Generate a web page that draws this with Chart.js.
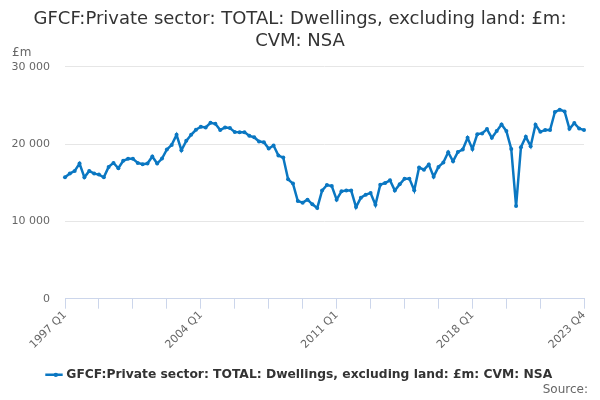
<!DOCTYPE html>
<html>
<head>
<meta charset="utf-8">
<script src="https://cdn.jsdelivr.net/npm/chart.js@4/dist/chart.umd.min.js"></script>
<style>
  body { margin: 0; background: #fff; }
  #wrap { width: 600px; height: 400px; }
</style>
</head>
<body>
<div id="wrap"><canvas id="chart" width="600" height="400"></canvas></div>
<script>
// categories: 1997 Q1 .. 2023 Q4
const years = [1997, 1998, 1999, 2000, 2001, 2002, 2003, 2004, 2005, 2006, 2007, 2008, 2009,
  2010, 2011, 2012, 2013, 2014, 2015, 2016, 2017, 2018, 2019, 2020, 2021, 2022, 2023];
const quarters = ['Q1', 'Q2', 'Q3', 'Q4'];

// £m
const dwellings = [
  15710, 16190, 16540, 17490, 15710, 16540, 16190, 16060, 15710, 17060, 17580, 16880,
  17840, 18100, 18100, 17580, 17400, 17490, 18400, 17490, 18140, 19310, 19910, 21210,
  19220, 20430, 21210, 21860, 22250, 22170, 22770, 22640, 21820, 22170, 22080, 21580,
  21560, 21560, 21080, 20900, 20350, 20260, 19440, 19830, 18530, 18270, 15450, 14900,
  12640, 12430, 12820, 12210, 11730, 13990, 14710, 14590, 12820, 13900, 13990, 13990,
  11860, 13080, 13470, 13680, 12170, 14760, 14970, 15320, 13990, 14800, 15540, 15540,
  14030, 16970, 16700, 17360, 15800, 17060, 17620, 18960, 17790, 19000, 19310, 20820,
  19390, 21300, 21390, 21950, 20820, 21690, 22560, 21690, 19390, 11990, 19610, 20950,
  19740, 22510, 21600, 21820, 21820, 24160, 24460, 24240, 21990, 22730, 22030, 21820
];

// x tick marks and which of them carry a label
const tickIdx = [0, 7, 14, 21, 28, 35, 42, 49, 56, 63, 70, 77, 84, 91, 98, 107];
const labelIdx = [0, 28, 56, 84, 107];
const yTicks = [0, 10000, 20000, 30000];

const labels = [];
years.forEach(function (y) {
  quarters.forEach(function (q) { labels.push(y + ' ' + q); });
});

const FONT = "'DejaVu Sans', sans-serif";
const blue = '#0a77c2';

// testo extra: unità, fonte e pallino nella legenda
const extraText = {
  id: 'extraText',
  afterDraw: function (chart) {
    const ctx = chart.ctx;
    ctx.save();
    ctx.font = '12px ' + FONT;
    ctx.fillStyle = '#666';
    ctx.textBaseline = 'middle';
    ctx.textAlign = 'left';
    ctx.fillText('£m', 12, 53);
    ctx.textAlign = 'right';
    ctx.fillText('Source:', 588, 390);
    const box = chart.legend.legendHitBoxes[0];
    if (box) {
      ctx.fillStyle = blue;
      ctx.beginPath();
      ctx.arc(box.left + 8, box.top + box.height / 2, 2.2, 0, Math.PI * 2);
      ctx.fill();
    }
    ctx.restore();
  }
};

new Chart(document.getElementById('chart').getContext('2d'), {
  type: 'line',
  data: {
    labels: labels,
    datasets: [{
      label: 'GFCF:Private sector: TOTAL: Dwellings, excluding land: £m: CVM: NSA',
      data: dwellings,
      borderColor: blue,
      backgroundColor: blue,
      borderWidth: 2.5,
      pointRadius: 2,
      pointBorderWidth: 0,
      pointBackgroundColor: blue,
      tension: 0,
    }],
  },
  options: {
    responsive: false,
    animation: false,
    layout: { padding: { left: 0, right: 0, top: 8, bottom: 9 } },
    plugins: {
      title: {
        display: true,
        text: ['GFCF:Private sector: TOTAL: Dwellings, excluding land: £m:', 'CVM: NSA'],
        color: '#333',
        font: { family: FONT, size: 18, weight: 'normal', lineHeight: 1.22 },
        padding: { top: 0, bottom: 15 },
      },
      legend: {
        position: 'bottom',
        labels: {
          usePointStyle: true,
          pointStyle: 'line',
          boxWidth: 16,
          color: '#333',
          font: { family: FONT, size: 12.3, weight: 'bold' },
          generateLabels: function (chart) {
            const items = Chart.defaults.plugins.legend.labels.generateLabels(chart);
            items.forEach(function (it) {
              it.pointStyle = 'line';
              it.lineWidth = 2.5;
              it.strokeStyle = blue;
            });
            return items;
          },
        },
      },
      tooltip: { enabled: false },
    },
    scales: {
      x: {
        offset: false,
        afterBuildTicks: function (scale) {
          scale.ticks = tickIdx.map(function (i) { return { value: i }; });
        },
        afterFit: function (scale) { scale.height = 60; },
        grid: { drawOnChartArea: false, color: '#ccd6eb', tickLength: 10, offset: false },
        border: { color: '#ccd6eb' },
        ticks: {
          autoSkip: false,
          maxRotation: 45,
          minRotation: 45,
          padding: 0,
          color: '#666',
          font: { family: FONT, size: 11 },
          callback: function (value) {
            return labelIdx.indexOf(value) >= 0 ? labels[value] : '';
          },
        },
      },
      y: {
        min: 0,
        max: 30000,
        afterBuildTicks: function (scale) {
          scale.ticks = yTicks.map(function (v) { return { value: v }; });
        },
        afterFit: function (scale) { scale.width = 65; },
        grid: { color: '#e6e6e6', drawTicks: false },
        border: { display: false },
        ticks: {
          padding: 15,
          color: '#666',
          font: { family: FONT, size: 11 },
          callback: function (v) {
            return String(v).replace(/\B(?=(\d{3})+(?!\d))/g, ' ');
          },
        },
      },
      // asse vuoto a destra, solo per lasciare margine
      yRight: {
        position: 'right',
        afterFit: function (scale) { scale.width = 16; },
        grid: { display: false },
        border: { display: false },
        ticks: { display: false },
      },
    },
  },
  plugins: [extraText],
});
</script>
</body>
</html>
